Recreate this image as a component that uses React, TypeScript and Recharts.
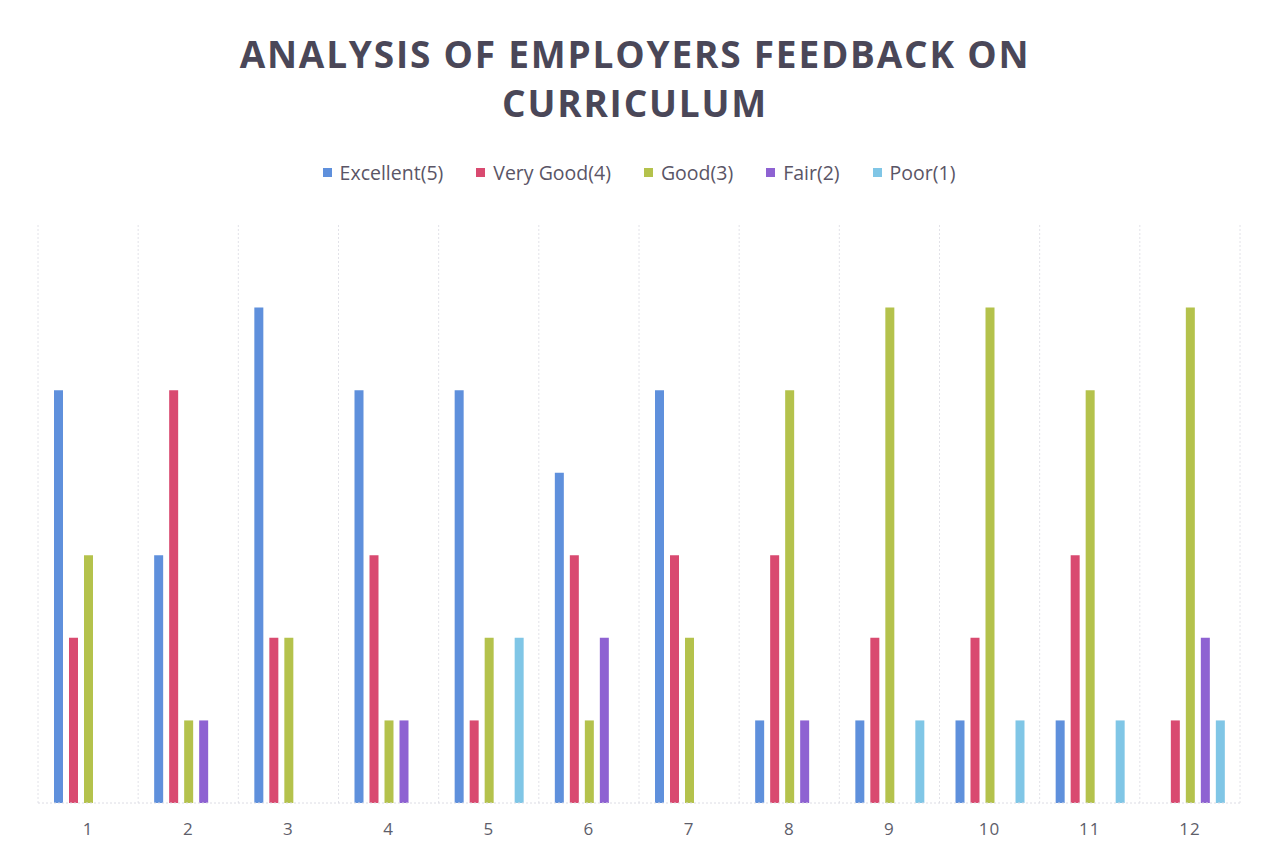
import { BarChart, Bar, XAxis, YAxis, CartesianGrid, Legend } from "recharts";

const categories = ["1", "2", "3", "4", "5", "6", "7", "8", "9", "10", "11", "12"];
const excellent = [5, 3, 6, 5, 5, 4, 5, 1, 1, 1, 1, 0];
const veryGood = [2, 5, 2, 3, 1, 3, 3, 3, 2, 2, 3, 1];
const good = [3, 1, 2, 1, 2, 1, 2, 5, 6, 6, 5, 6];
const fair = [0, 1, 0, 1, 0, 2, 0, 1, 0, 0, 0, 2];
const poor = [0, 0, 0, 0, 2, 0, 0, 0, 1, 1, 1, 1];

const series = [
  { key: "excellent", name: "Excellent(5)", color: "#5f90dc" },
  { key: "veryGood", name: "Very Good(4)", color: "#d94a70" },
  { key: "good", name: "Good(3)", color: "#b4c24c" },
  { key: "fair", name: "Fair(2)", color: "#8e62d2" },
  { key: "poor", name: "Poor(1)", color: "#80c6e6" }
];

const data = categories.map((c, i) => ({
  name: c,
  excellent: excellent[i],
  veryGood: veryGood[i],
  good: good[i],
  fair: fair[i],
  poor: poor[i]
}));

const font = "'Open Sans', 'Noto Sans', sans-serif";

function LegendContent() {
  return (
    <div style={{ display: "flex", justifyContent: "center", gap: 33, fontSize: 19.5, fontFamily: font, color: "#5a5566", height: 24, alignItems: "center" }}>
      {series.map((s) => (
        <div key={s.key} style={{ display: "flex", alignItems: "center" }}>
          <span style={{ display: "inline-block", width: 9, height: 9, background: s.color, marginRight: 8 }} />
          <span>{s.name}</span>
        </div>
      ))}
    </div>
  );
}

export default function App() {
  return (
    <div style={{ position: "absolute", left: 0, top: 0, width: 1270, height: 856, background: "#fff", fontFamily: font }}>
      <div
        style={{
          position: "absolute",
          top: 29,
          left: 0,
          width: 1270,
          textAlign: "center",
          fontSize: 37,
          fontWeight: 700,
          lineHeight: "49px",
          letterSpacing: 1.8,
          color: "#4a4758"
        }}
      >
        ANALYSIS OF EMPLOYERS FEEDBACK ON
        <br />
        CURRICULUM
      </div>
      <BarChart
        width={1270}
        height={856}
        data={data}
        margin={{ top: 201, right: 30, bottom: 23, left: 38 }}
        barSize={9}
        barGap={6}
      >
        <CartesianGrid
          horizontal={false}
          stroke="#e2e2e8"
          strokeDasharray="2 2"
          verticalCoordinatesGenerator={({ offset }: any) =>
            Array.from({ length: categories.length + 1 }, (_, i) => offset.left + (i * offset.width) / categories.length)
          }
        />
        <XAxis
          dataKey="name"
          tickLine={false}
          axisLine={{ stroke: "#dcdce4", strokeDasharray: "2 2" }}
          tick={{ fill: "#5e5e6a", fontSize: 17, fontFamily: font, letterSpacing: 1 }}
          tickMargin={14}
        />
        <YAxis hide domain={[0, 7]} />
        <Legend verticalAlign="top" align="center" content={LegendContent} wrapperStyle={{ top: 160 }} />
        {series.map((s) => (
          <Bar key={s.key} dataKey={s.key} name={s.name} fill={s.color} isAnimationActive={false} />
        ))}
      </BarChart>
    </div>
  );
}
